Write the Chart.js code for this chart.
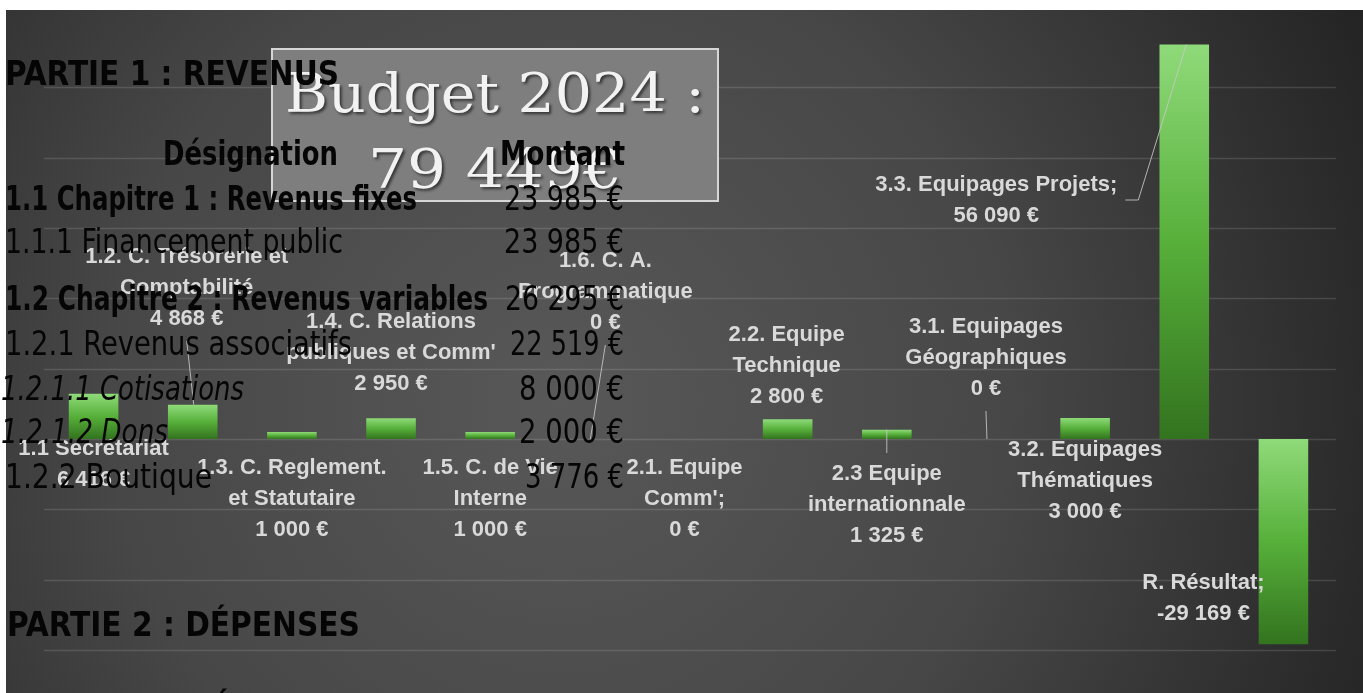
<!DOCTYPE html>
<html lang="fr">
<head>
<meta charset="utf-8">
<title>Budget 2024</title>
<script src="https://cdn.jsdelivr.net/npm/chart.js@4.4.1/dist/chart.umd.min.js"></script>
<style>
  html, body { margin: 0; padding: 0; background: #fff; }
  #wrap { width: 1363px; height: 693px; position: relative; }
</style>
</head>
<body>
<div id="wrap"><canvas id="budgetChart"></canvas></div>
<script>
// Données du graphique (dépenses par commission)
const categories = [
    ['1.1 Secrétariat'],
    ['1.2. C. Trésorerie et', 'Comptabilité'],
    ['1.3. C. Reglement.', 'et Statutaire'],
    ['1.4. C. Relations', "publiques et Comm'"],
    ['1.5. C. de Vie', 'Interne'],
    ['1.6. C. A.', 'Programmatique'],
    ['2.1. Equipe', "Comm';"],
    ['2.2. Equipe', 'Technique'],
    ['2.3 Equipe', 'internationnale'],
    ['3.1. Equipages', 'Géographiques'],
    ['3.2. Equipages', 'Thématiques'],
    ['3.3. Equipages Projets;'],
    ['R. Résultat;']
];
const montants = [6416, 4868, 1000, 2950, 1000, 0, 0, 2800, 1325, 0, 3000, 56090, -29169];
const yTicks = [-30000, -20000, -10000, 0, 10000, 20000, 30000, 40000, 50000];

// Tableau des revenus (texte noir par-dessus)
const designations = [
    '1.1 Chapitre 1 : Revenus fixes',
    '1.1.1 Financement public',
    '1.2 Chapitre 2 : Revenus variables',
    '1.2.1 Revenus associatifs',
    '1.2.1.1 Cotisations',
    '1.2.1.2 Dons',
    '1.2.2 Boutique'
];
const montantsTableau = ['23 985 €', '23 985 €', '26 295 €', '22 519 €', '8 000 €', '2 000 €', '3 776 €'];
const titreBudget = ['Budget 2024 :', '79 449€'];

// Mise en page des lignes du tableau
const rowY = [210, 253, 310, 355, 400, 443, 488];
const rowW = [412, 338, 483, 347, 243, 167, 207];
const rowStyle = ['bold', 'normal', 'bold', 'normal', 'italic', 'italic', 'normal'];
const montantW = [120, 120, 119, 114, 105, 105, 99];

// Position des étiquettes (décalage par rapport à la barre / ligne du zéro)
const labelPos = [
    { dx: 0, dy: 10 },
    { dx: -6, dy: -182, leader: 'up' },
    { dx: 0, dy: 29 },
    { dx: 0, dy: -117 },
    { dx: 0, dy: 29 },
    { dx: 16, dy: -178, leader: 'up' },
    { dx: -4, dy: 29 },
    { dx: -1, dy: -104 },
    { dx: 0, dy: 35, leader: 'down' },
    { dx: 0, dy: -112, leader: 'up' },
    { dx: 0, dy: 11 },
    { dx: -188, dy: -254, leader: 'side' },
    { dx: -80, dy: 144 }
];

const NARROW = '"Liberation Sans Narrow", "DejaVu Sans Condensed", "Liberation Sans", sans-serif';

function fmt(v) {
    const s = Math.abs(v).toString().replace(/\B(?=(\d{3})+(?!\d))/g, ' ');
    return (v < 0 ? '-' : '') + s + ' €';
}

// texte étiré / compressé à une largeur donnée
function drawFit(ctx, text, x, y, w, align, font) {
    ctx.save();
    ctx.font = font;
    const m = ctx.measureText(text).width;
    ctx.translate(align === 'right' ? x - w : (align === 'center' ? x - w / 2 : x), y);
    ctx.scale(w / m, 1);
    ctx.textAlign = 'left';
    ctx.textBaseline = 'alphabetic';
    ctx.fillText(text, 0, 0);
    ctx.restore();
}

const fondPlugin = {
    id: 'fond',
    beforeDraw(chart) {
        const ctx = chart.ctx;
        ctx.save();
        ctx.fillStyle = '#ffffff';
        ctx.fillRect(0, 0, chart.width, chart.height);
        const g = ctx.createRadialGradient(560, 400, 0, 560, 400, 900);
        g.addColorStop(0, '#585858');
        g.addColorStop(0.5, '#474747');
        g.addColorStop(1, '#232323');
        ctx.fillStyle = g;
        ctx.fillRect(6, 10, chart.width - 6, chart.height - 10);
        ctx.restore();
    },
    beforeDatasetsDraw(chart) {
        const ctx = chart.ctx, ys = chart.scales.y, area = chart.chartArea;
        ctx.save();
        ctx.strokeStyle = 'rgba(255,255,255,0.13)';
        ctx.lineWidth = 1.5;
        yTicks.forEach(t => {
            const py = Math.round(ys.getPixelForValue(t)) + 0.5;
            ctx.beginPath();
            ctx.moveTo(area.left, py);
            ctx.lineTo(area.right + 3, py);
            ctx.stroke();
        });
        ctx.restore();
    }
};

const etiquettesPlugin = {
    id: 'etiquettes',
    afterDatasetsDraw(chart) {
        const ctx = chart.ctx, ys = chart.scales.y;
        const meta = chart.getDatasetMeta(0);
        const zero = ys.getPixelForValue(0);
        const lh = 31;
        ctx.save();
        ctx.font = 'bold 22px "Liberation Sans", Arial, sans-serif';
        ctx.textAlign = 'center';
        ctx.textBaseline = 'middle';
        meta.data.forEach((bar, i) => {
            const p = labelPos[i];
            const lines = categories[i].concat([fmt(montants[i])]);
            const lx = bar.x + p.dx;
            const ly = zero + p.dy;
            const top = ys.getPixelForValue(montants[i]);

            ctx.strokeStyle = 'rgba(200,200,200,0.85)';
            ctx.lineWidth = 1;
            if (p.leader === 'up') {
                ctx.beginPath();
                ctx.moveTo(lx, ly + (lines.length - 1) * lh + 22);
                ctx.lineTo(bar.x + 1, top);
                ctx.stroke();
            } else if (p.leader === 'down') {
                ctx.beginPath();
                ctx.moveTo(bar.x, top);
                ctx.lineTo(bar.x, ly - 21);
                ctx.stroke();
            } else if (p.leader === 'side') {
                const right = lx + ctx.measureText(lines[0]).width / 2;
                ctx.beginPath();
                ctx.moveTo(right + 8, ly + 15);
                ctx.lineTo(right + 21, ly + 15);
                ctx.lineTo(bar.x + 2, top);
                ctx.stroke();
            }

            ctx.fillStyle = '#d9d9d9';
            lines.forEach((t, k) => ctx.fillText(t, lx, ly + k * lh));
        });
        ctx.restore();
    },
    afterDraw(chart) {
        const ctx = chart.ctx;
        ctx.save();
        // encadré du titre
        ctx.fillStyle = '#7e7e7e';
        ctx.fillRect(272, 49, 446, 152);
        ctx.strokeStyle = '#d6d6d6';
        ctx.lineWidth = 2;
        ctx.strokeRect(272, 49, 446, 152);

        ctx.shadowColor = 'rgba(0,0,0,0.6)';
        ctx.shadowOffsetX = 2;
        ctx.shadowOffsetY = 2;
        ctx.shadowBlur = 3;
        ctx.fillStyle = '#f2f2f2';
        drawFit(ctx, titreBudget[0], 495, 112, 420, 'center', '55px "DejaVu Serif", serif');
        drawFit(ctx, titreBudget[1], 495, 188, 254, 'center', '55px "DejaVu Serif", serif');
        ctx.restore();

        // tableau en noir
        ctx.save();
        ctx.fillStyle = '#050505';
        drawFit(ctx, 'PARTIE 1 : REVENUS', 5, 85, 334, 'left', 'bold 33px ' + NARROW);
        drawFit(ctx, 'Désignation', 163, 165, 175, 'left', 'bold 33px ' + NARROW);
        drawFit(ctx, 'Montant', 625, 165, 125, 'right', 'bold 33px ' + NARROW);
        designations.forEach((d, i) => {
            const st = rowStyle[i];
            const font = (st === 'bold' ? 'bold ' : st === 'italic' ? 'italic ' : '') + '33px ' + NARROW;
            drawFit(ctx, d, st === 'italic' ? 1 : 5, rowY[i], rowW[i], 'left', font);
            drawFit(ctx, montantsTableau[i], 624, rowY[i], montantW[i], 'right', '33px ' + NARROW);
        });
        drawFit(ctx, 'PARTIE 2 : DÉPENSES', 7, 636, 353, 'left', 'bold 34px ' + NARROW);
        ctx.font = 'bold 33px ' + NARROW;
        ctx.fillText('É', 212, 720);
        ctx.restore();
    }
};

document.addEventListener('DOMContentLoaded', function() {
    const ctx = document.getElementById('budgetChart').getContext('2d');

    new Chart(ctx, {
        type: 'bar',
        data: {
            labels: categories,
            datasets: [{
                data: montants,
                barPercentage: 0.5,
                categoryPercentage: 1,
                borderWidth: 0,
                backgroundColor: function(c) {
                    const ys = c.chart.scales.y;
                    if (!ys || c.raw == null) return '#58b13a';
                    const p1 = ys.getPixelForValue(Math.max(c.raw, 0));
                    const p2 = ys.getPixelForValue(Math.min(c.raw, 0));
                    if (!isFinite(p1) || p2 - p1 < 1) return '#58b13a';
                    const g = c.chart.ctx.createLinearGradient(0, p1, 0, p2);
                    g.addColorStop(0, '#8fda7a');
                    g.addColorStop(0.5, '#57b03a');
                    g.addColorStop(1, '#33731f');
                    return g;
                }
            }]
        },
        options: {
            responsive: true,
            maintainAspectRatio: false,
            animation: false,
            devicePixelRatio: 1,
            layout: { padding: { left: 44, right: 30, top: 17, bottom: 43 } },
            plugins: {
                legend: { display: false },
                tooltip: { enabled: false }
            },
            scales: {
                x: { display: false },
                y: { display: false, min: -30000, max: 60000 }
            }
        },
        plugins: [fondPlugin, etiquettesPlugin]
    });
});
</script>
</body>
</html>
